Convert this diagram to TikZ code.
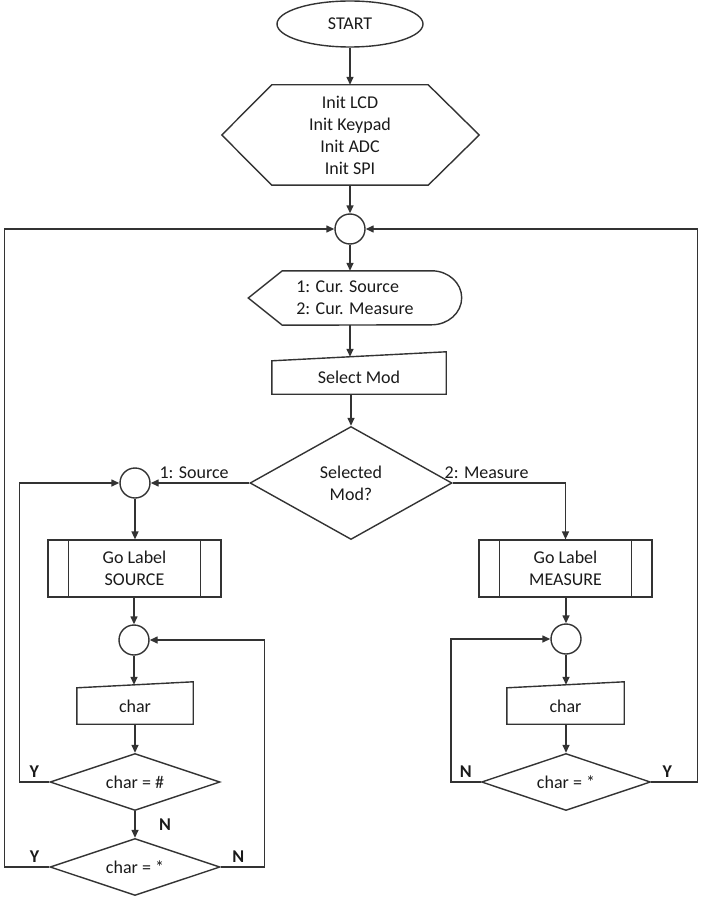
\documentclass[tikz,border=0pt]{standalone}
\usepackage{fontspec}
\setmainfont{Carlito}
\usepackage{xcolor}
\definecolor{cLine}{HTML}{333333}
\definecolor{cText}{HTML}{1A1A1A}
\usepackage{tikz}
\usetikzlibrary{positioning,arrows.meta,shapes.geometric}
\newcommand{\chartfont}{\fontsize{18}{22}\selectfont}
\tikzset{
  node-term/.style={draw=cLine,line width=1.4pt,ellipse,minimum width=146pt,
    minimum height=46pt,font=\chartfont},
  % outline of these is drawn by hand after the node
  node-plain/.style={inner sep=0pt,align=center,font=\chartfont},
  node-join/.style={draw=cLine,line width=1.4pt,circle,minimum size=30pt,inner sep=0pt},
  node-dec/.style={draw=cLine,line width=1.4pt,diamond,inner sep=0pt,
    align=center,font=\chartfont},
  node-proc/.style={draw=cLine,line width=1.2pt,minimum width=173pt,
    minimum height=57pt,align=center,font=\chartfont},
  arrow/.style={-{Triangle[length=8pt,width=7pt]},line width=1.4pt,draw=cLine},
  outline/.style={line width=1.4pt,draw=cLine},
  choice/.style={font=\chartfont},
  tag/.style={font=\chartfont\bfseries},
}

\begin{document}
\begin{tikzpicture}[x=1pt,y=-1pt,color=cText]
  \useasboundingbox (0,0) rectangle (709,904);
  \node[node-term] (start) at (350,24) {START};
  \node[node-plain,minimum width=156pt,minimum height=100pt] (init) at (350,135)
    {Init LCD\\Init Keypad\\Init ADC\\Init SPI};
  \draw[outline] (init.north west) -- (init.north east) -- ([xshift=51pt]init.east)
    -- (init.south east) -- (init.south west) -- ([xshift=-50pt]init.west) -- cycle;
  \node[node-join] (j1) at (350,229) {};
  \node[node-plain,align=left,minimum width=213pt,minimum height=54pt] (menu) at (355,298)
    {1: Cur. Source\\2: Cur. Measure};
  \draw[outline] (menu.west) -- ([xshift=34pt]menu.north west) -- ([xshift=-30pt]menu.north east)
    arc[start angle=90,end angle=-90,x radius=30pt,y radius=27pt]
    -- ([xshift=34pt]menu.south west) -- cycle;
  \node[node-plain,minimum width=174pt,minimum height=33pt] (sel) at (359,377.5) {Select Mod};
  \draw[outline] (sel.south west) -- (sel.north west) -- ([yshift=9pt]sel.north east)
    -- (sel.south east) -- cycle;
  \node[node-dec,aspect=1.8,minimum width=202pt,minimum height=113pt] (dec) at (351,483)
    {Selected\\Mod?};

  % source branch
  \node[node-join] (j2) at (135,483) {};
  \node[node-proc] (src) at (134.5,568.5) {Go Label\\SOURCE};
  \draw[outline,line width=1.2pt] ([xshift=21pt]src.north west) -- ([xshift=21pt]src.south west)
    ([xshift=-21pt]src.north east) -- ([xshift=-21pt]src.south east);
  \node[node-join] (j3) at (134,640) {};
  \node[node-plain,minimum width=116pt,minimum height=36pt] (chL) at (135,706) {char};
  \draw[outline] (chL.south west) -- (chL.north west) -- ([yshift=6pt]chL.north east)
    -- (chL.south east) -- cycle;
  \node[node-dec,aspect=3,minimum width=170pt,minimum height=57pt] (hashL) at (135,782)
    {char = \#};
  \node[node-dec,aspect=3,minimum width=170pt,minimum height=57pt] (starL) at (135,867)
    {char = *};

  % measure branch
  \node[node-proc] (mes) at (565.5,568.5) {Go Label\\MEASURE};
  \draw[outline,line width=1.2pt] ([xshift=21pt]mes.north west) -- ([xshift=21pt]mes.south west)
    ([xshift=-21pt]mes.north east) -- ([xshift=-21pt]mes.south east);
  \node[node-join] (j4) at (566,639) {};
  \node[node-plain,minimum width=117pt,minimum height=36pt] (chR) at (565.5,706) {char};
  \draw[outline] (chR.south west) -- (chR.north west) -- ([yshift=6pt]chR.north east)
    -- (chR.south east) -- cycle;
  \node[node-dec,aspect=3,minimum width=169pt,minimum height=57pt] (starR) at (566,782)
    {char = *};

  \draw[arrow] (start) -- (init);
  \draw[arrow] (init) -- (j1);
  \draw[arrow] (j1) -- (j1 |- menu.north);
  \draw[arrow] (j1 |- menu.south) -- ([yshift=4pt]j1 |- sel.north);
  \draw[arrow] (dec |- sel.south) -- (dec.north);
  \draw[arrow] (dec.west) -- node[choice,above,pos=0.56]{1: Source} (j2);
  \draw[arrow] (dec.east) -| node[choice,above,pos=0.15]{2: Measure} (mes.north);

  \draw[arrow] (j2) -- (j2 |- src.north);
  \draw[arrow] (j3 |- src.south) -- (j3);
  \draw[arrow] (j3) -- ([yshift=3pt]j3 |- chL.north);
  \draw[arrow] (hashL |- chL.south) -- (hashL.north);
  \draw[arrow] (hashL.south) -- node[tag,right=20pt]{N} (starL.north);
  \draw[arrow] (hashL.west) -- node[tag,above]{Y} ++(-30,0) |- (j2.west);
  \draw[arrow] (starL.west) -- node[tag,above,pos=0.33]{Y} ++(-45,0) |- (j1.west);
  \draw[arrow] (starL.east) -- node[tag,above,pos=0.4]{N} ++(44,0) |- (j3.east);

  \draw[arrow] (j4 |- mes.south) -- (j4);
  \draw[arrow] (j4) -- ([yshift=3pt]j4 |- chR.north);
  \draw[arrow] (starR |- chR.south) -- (starR.north);
  \draw[arrow] (starR.west) -- node[tag,above]{N} ++(-30,0) |- (j4.west);
  \draw[arrow] (starR.east) -- node[tag,above,pos=0.35]{Y} ++(46,0) |- (j1.east);
\end{tikzpicture}
\end{document}
